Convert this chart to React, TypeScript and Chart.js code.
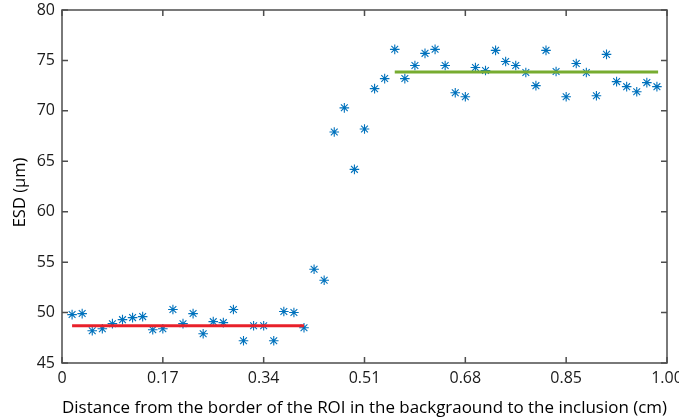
import React, { useEffect, useRef } from "react";
import { Chart, registerables } from "chart.js";

Chart.register(...registerables);

// Distance (cm) of every measurement
const distances = [
  0.017, 0.034, 0.051, 0.068, 0.085, 0.102, 0.119, 0.136, 0.153, 0.17,
  0.187, 0.204, 0.221, 0.238, 0.255, 0.272, 0.289, 0.306, 0.323, 0.34,
  0.357, 0.374, 0.391, 0.408, 0.425, 0.442, 0.459, 0.476, 0.493, 0.51,
  0.527, 0.544, 0.561, 0.578, 0.595, 0.612, 0.629, 0.646, 0.663, 0.68,
  0.697, 0.714, 0.731, 0.748, 0.765, 0.782, 0.799, 0.816, 0.833, 0.85,
  0.867, 0.884, 0.901, 0.918, 0.935, 0.952, 0.969, 0.986, 1.003,
];

// ESD (µm) at each distance
const esdValues = [
  49.8, 49.9, 48.2, 48.4, 48.9, 49.3, 49.5, 49.6, 48.3, 48.4,
  50.3, 48.9, 49.9, 47.9, 49.1, 49.0, 50.3, 47.2, 48.7, 48.7,
  47.2, 50.1, 50.0, 48.5, 54.3, 53.2, 67.9, 70.3, 64.2, 68.2,
  72.2, 73.2, 76.1, 73.2, 74.5, 75.7, 76.1, 74.5, 71.8, 71.4,
  74.3, 74.0, 76.0, 74.9, 74.5, 73.8, 72.5, 76.0, 73.9, 71.4,
  74.7, 73.8, 71.5, 75.6, 72.9, 72.4, 71.9, 72.8, 72.4,
];

// Mean levels (background, inclusion)
const backgroundRange = [0.017, 0.408];
const backgroundMean = 48.7;
const inclusionRange = [0.561, 1.005];
const inclusionMean = 73.85;

const xTickValues = [0, 0.17, 0.34, 0.51, 0.68, 0.85, 1.02];
const xTickLabels = ["0", "0.17", "0.34", "0.51", "0.68", "0.85", "1.00"];
const yTickValues = [45, 50, 55, 60, 65, 70, 75, 80];

const xTitle = "Distance from the border of the ROI in the backgraound to the inclusion (cm)";
const yTitle = "ESD (µm)";

const FONT = "'Open Sans', 'Noto Sans', sans-serif";
const AXIS_COLOR = "#4d4d4d";
const TICK_LEN = 6;

const boxPlugin = {
  id: "matlabBox",
  afterDraw(chart: any) {
    const { ctx, chartArea, scales } = chart;
    const { left, right, top, bottom } = chartArea;
    ctx.save();
    ctx.strokeStyle = AXIS_COLOR;
    ctx.lineWidth = 1.5;
    ctx.strokeRect(left, top, right - left, bottom - top);
    ctx.beginPath();
    for (const v of xTickValues) {
      const px = scales.x.getPixelForValue(v);
      ctx.moveTo(px, bottom);
      ctx.lineTo(px, bottom - TICK_LEN);
      ctx.moveTo(px, top);
      ctx.lineTo(px, top + TICK_LEN);
    }
    for (const v of yTickValues) {
      const py = scales.y.getPixelForValue(v);
      ctx.moveTo(left, py);
      ctx.lineTo(left + TICK_LEN, py);
      ctx.moveTo(right, py);
      ctx.lineTo(right - TICK_LEN, py);
    }
    ctx.stroke();

    // y-axis title (slightly below the axis centre, as in the original)
    ctx.fillStyle = "#000";
    ctx.font = `16.5px ${FONT}`;
    ctx.textAlign = "center";
    ctx.textBaseline = "middle";
    ctx.translate(20.5, (top + bottom) / 2 + 6);
    ctx.rotate(-Math.PI / 2);
    ctx.fillText(yTitle, 0, 0);
    ctx.restore();
  },
};

export default function App() {
  const canvasRef = useRef<HTMLCanvasElement | null>(null);

  useEffect(() => {
    if (!canvasRef.current) return;
    const points = distances.map((x, i) => ({ x, y: esdValues[i] }));
    const chart = new Chart(canvasRef.current, {
      type: "scatter",
      data: {
        datasets: [
          {
            label: "Background mean",
            type: "line",
            data: backgroundRange.map((x) => ({ x, y: backgroundMean })),
            borderColor: "#e8202a",
            borderWidth: 3,
            pointRadius: 0,
            fill: false,
            order: 1,
          },
          {
            label: "Inclusion mean",
            type: "line",
            data: inclusionRange.map((x) => ({ x, y: inclusionMean })),
            borderColor: "#77ac30",
            borderWidth: 3,
            pointRadius: 0,
            fill: false,
            order: 1,
          },
          {
            label: "ESD",
            data: points,
            pointStyle: "star",
            pointRadius: 4.8,
            pointBorderWidth: 1.1,
            borderColor: "#0072bd",
            backgroundColor: "#0072bd",
            order: 2,
          },
        ],
      },
      options: {
        responsive: false,
        animation: false,
        layout: { padding: { left: 0, top: 10, right: 12, bottom: 0 } },
        plugins: {
          legend: { display: false },
          tooltip: { enabled: false },
        },
        scales: {
          x: {
            type: "linear",
            min: 0,
            max: 1.02,
            afterBuildTicks: (scale: any) => {
              scale.ticks = xTickValues.map((value) => ({ value }));
            },
            afterFit: (scale: any) => {
              scale.height = 57;
              scale.paddingLeft = 0;
              scale.paddingRight = 0;
            },
            grid: { display: true, drawOnChartArea: false, drawTicks: false },
            border: { display: false },
            ticks: {
              autoSkip: false,
              maxRotation: 0,
              padding: 6,
              color: "#1a1a1a",
              font: { family: FONT, size: 16 },
              callback: (_v: any, i: number) => xTickLabels[i],
            },
            title: {
              display: true,
              text: xTitle,
              color: "#000",
              font: { family: FONT, size: 17 },
              padding: { top: 0, bottom: 2 },
            },
          },
          y: {
            type: "linear",
            min: 45,
            max: 80,
            afterBuildTicks: (scale: any) => {
              scale.ticks = yTickValues.map((value) => ({ value }));
            },
            afterFit: (scale: any) => {
              scale.width = 62;
              scale.paddingTop = 0;
              scale.paddingBottom = 0;
            },
            grid: { display: true, drawOnChartArea: false, drawTicks: false },
            border: { display: false },
            ticks: {
              padding: 7,
              color: "#1a1a1a",
              font: { family: FONT, size: 16 },
            },
            title: { display: false },
          },
        },
      },
      plugins: [boxPlugin],
    });
    return () => chart.destroy();
  }, []);

  return (
    <div style={{ position: "fixed", left: 0, top: 0, width: 679, height: 420, background: "#fff" }}>
      <canvas ref={canvasRef} width={679} height={420} style={{ display: "block" }} />
    </div>
  );
}
